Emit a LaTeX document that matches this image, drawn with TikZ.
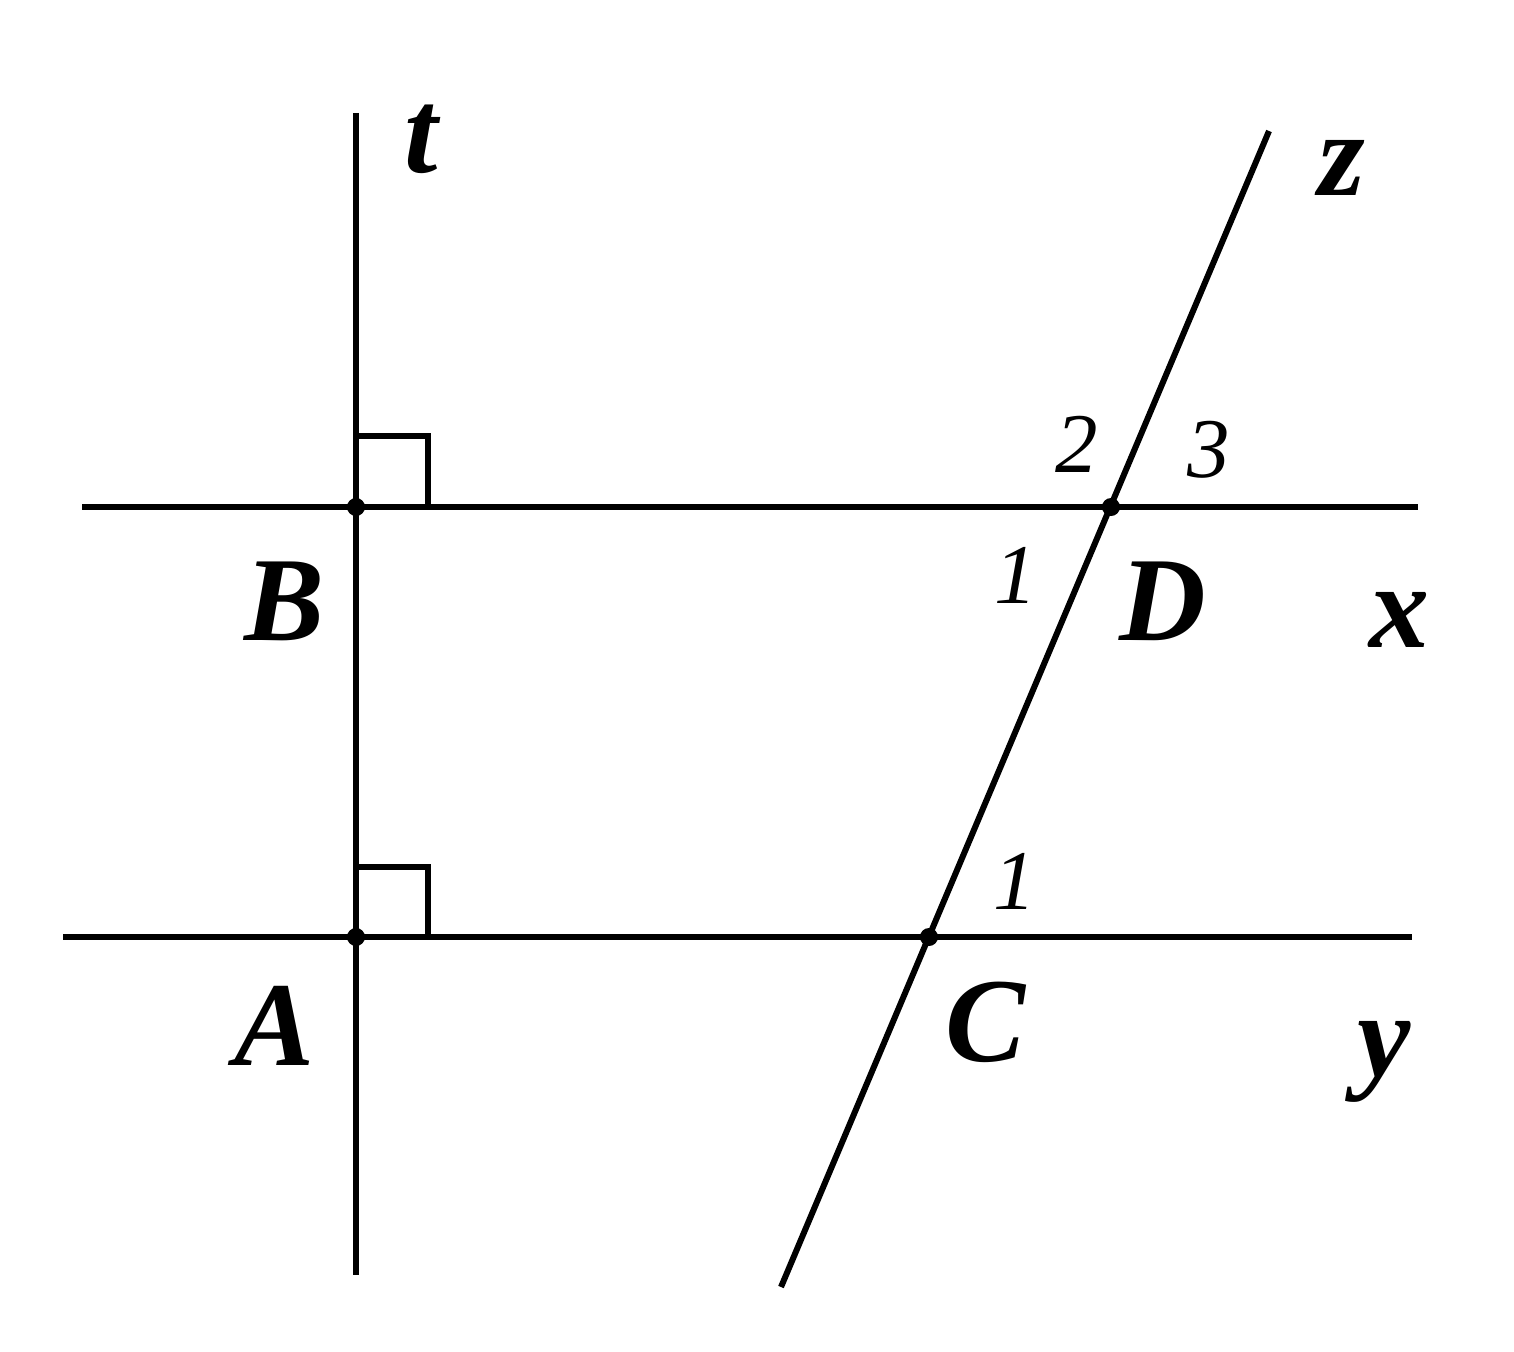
\documentclass[tikz,border=0pt]{standalone}
\usepackage{fontspec}
\setmainfont{Liberation Serif}
\begin{document}
\begin{tikzpicture}[x=1pt,y=-1pt,
  ln/.style={line width=6pt},
  rt/.style={line width=5.5pt},
  pt/.style={circle,fill=black,inner sep=0pt,minimum size=18pt},
  lbl/.style={font=\fontsize{120}{120}\selectfont\bfseries\itshape,inner sep=0pt},
  num/.style={font=\fontsize{85}{85}\selectfont\itshape,inner sep=0pt}]
\useasboundingbox (0,0) rectangle (1514,1351);
\coordinate (t1) at (356,113);
\coordinate (t2) at (356,1275);
\coordinate (x1) at (82,507);
\coordinate (x2) at (1418,507);
\coordinate (y1) at (63,937);
\coordinate (y2) at (1412,937);
\coordinate (z1) at (1269,131);
\coordinate (z2) at (781,1287);
\draw[ln] (t1) -- (t2);
\draw[ln] (x1) -- (x2);
\draw[ln] (y1) -- (y2);
\draw[ln] (z1) -- (z2);
\node[pt] (B) at (356,507) {};
\node[pt] (A) at (356,937) {};
\node[pt] (D) at (1111,507) {};
\node[pt] (C) at (929,937) {};
\draw[rt] (356,436) -- (428,436) -- (428,507);
\draw[rt] (356,867) -- (428,867) -- (428,937);
\node[lbl] (lt) at (421,139) {t};
\node[lbl] (lz) at (1342,168) {z};
\node[lbl] (lB) at (285,601) {B};
\node[lbl] (lD) at (1163,601) {D};
\node[lbl] (lx) at (1399,620) {x};
\node[lbl] (lA) at (275,1026) {A};
\node[lbl] (lC) at (986,1022) {C};
\node[lbl] (ly) at (1384,1062) {y};
\node[num] (n2) at (1077,444) {2};
\node[num] (n3) at (1209,450) {3};
\node[num] (n1a) at (1016,575) {1};
\node[num] (n1b) at (1015,881) {1};
\end{tikzpicture}
\end{document}
